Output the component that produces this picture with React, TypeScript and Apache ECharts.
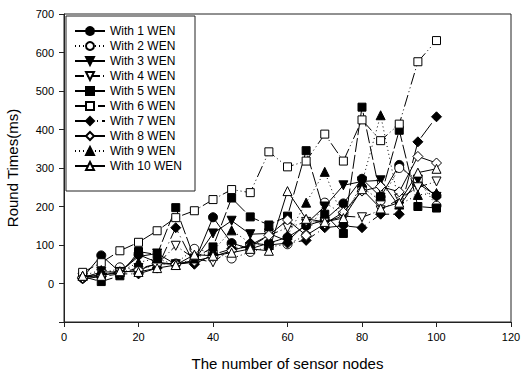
import React, { useEffect, useRef } from "react";
import * as echarts from "echarts";

const xNodes = [5, 10, 15, 20, 25, 30, 35, 40, 45, 50, 55, 60, 65, 70, 75, 80, 85, 90, 95, 100];

const wen1 = [15, 73, 30, 75, 55, 50, 55, 172, 105, 90, 105, 120, 150, 165, 208, 272, 225, 308, 260, 228];
const wen2 = [15, 20, 42, 35, 50, 52, 90, 80, 65, 82, 95, 102, 125, 210, 180, 250, 215, 300, 270, 202];
const wen3 = [15, 30, 30, 70, 78, 50, 60, 130, 163, 128, 130, 110, 155, 200, 255, 265, 268, 200, 270, 225];
const wen4 = [15, 25, 28, 40, 50, 98, 65, 55, 90, 95, 125, 145, 160, 160, 175, 172, 190, 220, 250, 265];
const wen5 = [18, 5, 20, 83, 75, 197, 65, 95, 222, 173, 152, 175, 345, 180, 130, 458, 225, 398, 200, 196];
const wen6 = [29, 54, 85, 107, 137, 171, 189, 218, 244, 236, 342, 303, 318, 388, 318, 425, 371, 414, 576, 631];
const wen7 = [12, 18, 25, 25, 40, 145, 50, 75, 90, 105, 100, 105, 112, 145, 150, 145, 180, 180, 368, 433];
const wen8 = [15, 22, 28, 35, 52, 50, 58, 70, 85, 100, 125, 165, 125, 155, 185, 240, 252, 238, 330, 313];
const wen9 = [20, 35, 30, 55, 65, 48, 65, 85, 138, 105, 100, 125, 210, 290, 165, 262, 437, 205, 230, 235];
const wen10 = [20, 20, 32, 30, 40, 48, 75, 72, 80, 90, 85, 240, 168, 160, 170, 245, 195, 210, 288, 298];

const seriesNames = [
  "With 1 WEN", "With 2 WEN", "With 3 WEN", "With 4 WEN", "With 5 WEN",
  "With 6 WEN", "With 7 WEN", "With 8 WEN", "With 9 WEN", "With 10 WEN",
];
const seriesValues = [wen1, wen2, wen3, wen4, wen5, wen6, wen7, wen8, wen9, wen10];

const DOWN_TRI = "path://M0,0L10,0L5,10Z";
const DIAMOND = "path://M5,0L10,5L5,10L0,5Z";

const styles: { symbol: string; size: number; filled: boolean; dash: any }[] = [
  { symbol: "circle", size: 9, filled: true, dash: "solid" },
  { symbol: "circle", size: 9, filled: false, dash: [1, 3] },
  { symbol: DOWN_TRI, size: 9, filled: true, dash: "solid" },
  { symbol: DOWN_TRI, size: 9, filled: false, dash: [9, 3, 1, 3] },
  { symbol: "rect", size: 8, filled: true, dash: [14, 3] },
  { symbol: "rect", size: 8, filled: false, dash: [12, 3, 1, 3, 1, 3] },
  { symbol: DIAMOND, size: 10, filled: true, dash: [18, 4, 1, 4] },
  { symbol: DIAMOND, size: 10, filled: false, dash: "solid" },
  { symbol: "triangle", size: 9, filled: true, dash: [1, 3] },
  { symbol: "triangle", size: 9, filled: false, dash: "solid" },
];

const FONT = 'Arial, "Liberation Sans", sans-serif';

export default function App() {
  const ref = useRef<HTMLDivElement>(null);
  useEffect(() => {
    if (!ref.current) return;
    const chart = echarts.init(ref.current, null, { renderer: "svg" });
    const series = seriesNames.map((name, i) => {
      const s = styles[i];
      return {
        name,
        type: "line",
        data: xNodes.map((x, j) => [x, seriesValues[i][j]]),
        symbol: s.symbol,
        symbolSize: s.size,
        showAllSymbol: true,
        color: "#000",
        lineStyle: { color: "#000", width: 1, type: s.dash },
        itemStyle: s.filled
          ? { color: "#000", borderColor: "#000", borderWidth: 1 }
          : { color: "#fff", borderColor: "#000", borderWidth: 1 },
        z: 2 + i,
      };
    });
    chart.setOption({
      animation: false,
      backgroundColor: "#fff",
      textStyle: { fontFamily: FONT, color: "#000" },
      grid: {
        left: 64,
        right: 21,
        top: 14,
        bottom: 50,
        containLabel: false,
        outerBoundsMode: "none",
        show: true,
        borderColor: "#222",
        borderWidth: 1,
        backgroundColor: "transparent",
      },
      legend: {
        orient: "vertical",
        left: 66,
        top: 16,
        padding: [9, 13, 19, 8],
        itemGap: 3,
        itemWidth: 30,
        itemHeight: 10,
        backgroundColor: "#fff",
        borderColor: "#222",
        borderWidth: 1,
        textStyle: { fontSize: 12, fontFamily: FONT, color: "#000" },
        data: seriesNames,
      },
      xAxis: {
        type: "value",
        min: 0,
        max: 120,
        interval: 20,
        name: "The number of sensor nodes",
        nameLocation: "middle",
        nameGap: 34,
        nameTextStyle: { fontSize: 15, fontFamily: FONT, color: "#000" },
        axisLine: { show: true, onZero: false, lineStyle: { color: "#222", width: 1 } },
        axisTick: { show: true, inside: false, length: 5, lineStyle: { color: "#222" } },
        axisLabel: { fontSize: 11, fontFamily: FONT, color: "#000", margin: 9 },
        splitLine: { show: false },
      },
      yAxis: {
        type: "value",
        min: -100,
        max: 700,
        interval: 100,
        name: "Round Times(ms)",
        nameLocation: "middle",
        nameGap: 44,
        nameTextStyle: { fontSize: 15, fontFamily: FONT, color: "#000" },
        axisLine: { show: true, onZero: false, lineStyle: { color: "#222", width: 1 } },
        axisTick: { show: true, inside: false, length: 5, lineStyle: { color: "#222" } },
        axisLabel: {
          fontSize: 11,
          fontFamily: FONT,
          color: "#000",
          margin: 10,
          formatter: (v: number) => (v < 0 ? "" : String(v)),
        },
        splitLine: { show: false },
      },
      series,
    });
    return () => chart.dispose();
  }, []);
  return (
    <div
      ref={ref}
      style={{ position: "fixed", left: 0, top: 0, width: 532, height: 372 }}
    />
  );
}
